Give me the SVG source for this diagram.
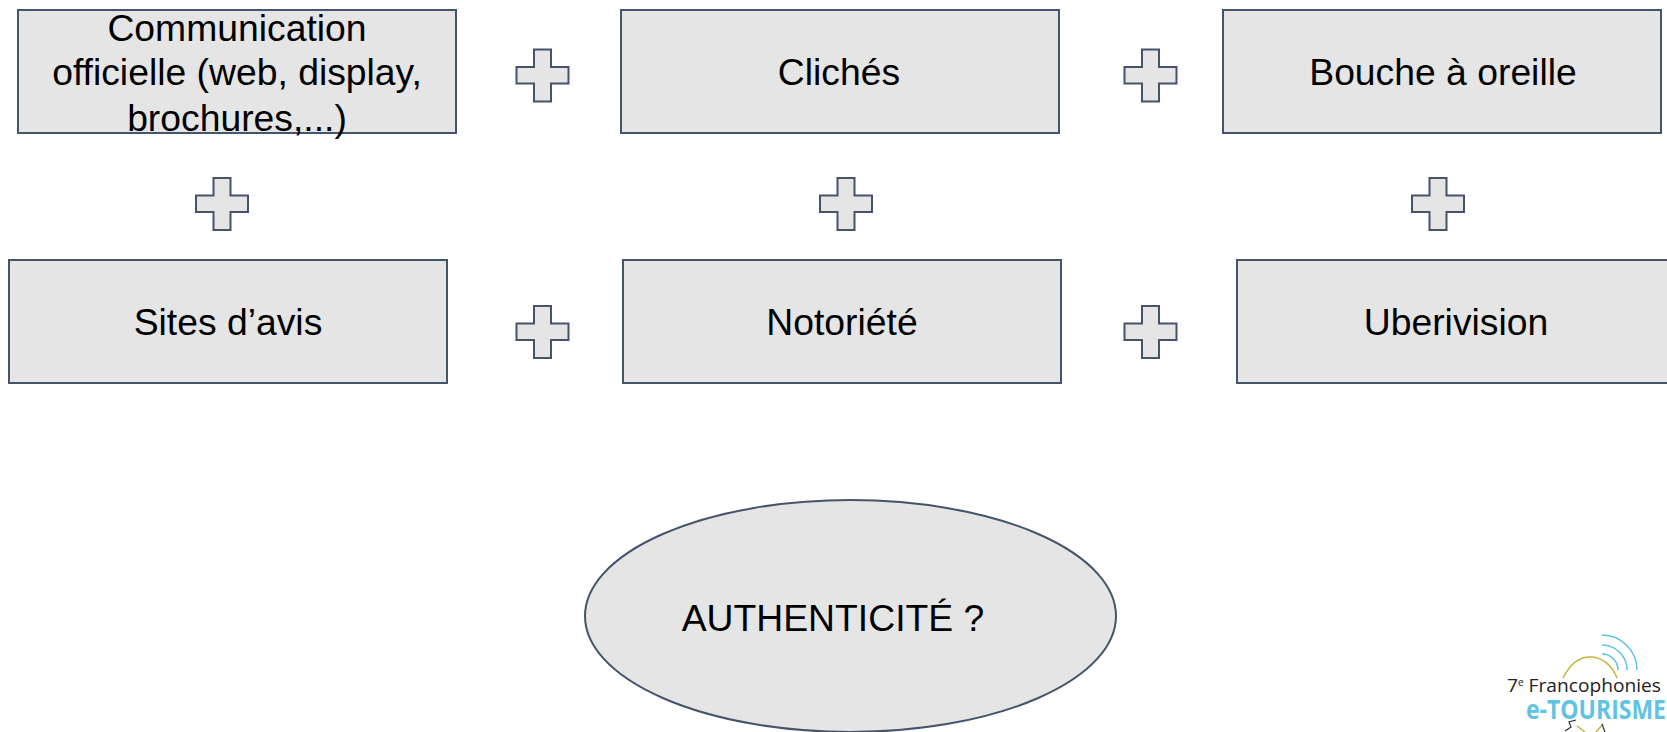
<svg xmlns="http://www.w3.org/2000/svg" width="1667" height="732" viewBox="0 0 1667 732">
<style>
.s{fill:#e5e5e5;stroke:#44546a;stroke-width:2}
.t{font-family:"Liberation Sans",Arial,sans-serif;font-size:37.300px;fill:#000;text-anchor:middle}
.w{fill:none;stroke:#5fc3e4;stroke-width:1.5}
.y{fill:none;stroke:#c3b83c;stroke-width:1.5}
.d{fill:none;stroke:#333;stroke-width:1.2}
</style>
<defs><path id="plus" class="s" d="M17.500 0H34.500V17.500H52V34H34.500V52H17.500V34H0V17.500H17.500Z"/></defs>
<rect width="1667" height="732" fill="#fff"/>
<g id="n1"><rect class="s" x="18" y="10" width="438" height="123"/>
<text class="t" x="237" y="41">Communication</text><text class="t" x="237" y="85">officielle (web, display,</text><text class="t" x="237" y="131">brochures,...)</text></g>
<g id="n2"><rect class="s" x="621" y="10" width="438" height="123"/><text class="t" x="839" y="85">Clichés</text></g>
<g id="n3"><rect class="s" x="1223" y="10" width="438" height="123"/><text class="t" x="1443" y="85">Bouche à oreille</text></g>
<g id="n4"><rect class="s" x="9" y="260" width="438" height="123"/><text class="t" x="228" y="335">Sites d’avis</text></g>
<g id="n5"><rect class="s" x="623" y="260" width="438" height="123"/><text class="t" x="842" y="335">Notoriété</text></g>
<g id="n6"><rect class="s" x="1237" y="260" width="438" height="123"/><text class="t" x="1456" y="335">Uberivision</text></g>
<g id="n7"><ellipse class="s" cx="850.500" cy="616" rx="265.500" ry="116"/><text class="t" x="833" y="631">AUTHENTICITÉ ?</text></g>
<g id="connectors">
<use href="#plus" x="516.500" y="49.500"/>
<use href="#plus" x="1124.500" y="49.500"/>
<use href="#plus" x="196" y="178"/>
<use href="#plus" x="820" y="178"/>
<use href="#plus" x="1412" y="178"/>
<use href="#plus" x="516.500" y="306"/>
<use href="#plus" x="1124.500" y="306"/>
</g>
<g id="logo">
<path class="w" d="M1602 635A35 35 0 0 1 1637 670M1602 645A25 25 0 0 1 1627 670M1602 654A16 16 0 0 1 1618 670"/>
<path class="y" d="M1563 678C1570 664 1578 657 1590 657C1602 657 1612 665 1617 678"/>
<path class="y" d="M1577 726L1585 732M1603 724L1596 732"/>
<path class="d" d="M1576 720L1569 722L1571 727L1565 731M1602 724L1605 732"/>
<text x="1507" y="692" font-family="'Open Sans',sans-serif" font-size="19" fill="#222" textLength="154" lengthAdjust="spacingAndGlyphs">7<tspan font-size="10" dy="-6">e</tspan><tspan dy="6"> Francophonies</tspan></text>
<text x="1526" y="719" font-family="'Open Sans',sans-serif" font-weight="700" font-size="27" fill="#5fc3e4" textLength="140" lengthAdjust="spacingAndGlyphs">e-TOURISME</text>
</g>
</svg>
